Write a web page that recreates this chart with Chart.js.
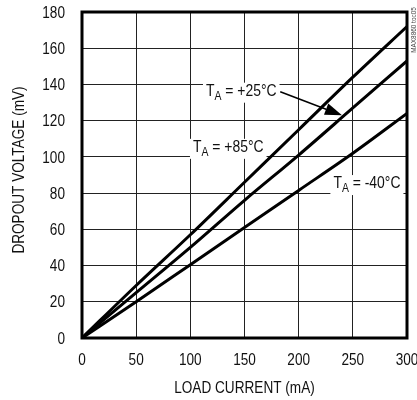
<!DOCTYPE html>
<html>
<head>
<meta charset="utf-8">
<script src="https://cdn.jsdelivr.net/npm/chart.js@4.4.1/dist/chart.umd.min.js"></script>
<style>
    html, body { margin: 0; padding: 0; background: #fff; overflow: hidden; }
    #wrap { position: relative; width: 440px; height: 400px; }
</style>
</head>
<body>
<div id="wrap"><canvas id="dropoutChart"></canvas></div>
<script>
const FONT = '"Liberation Sans", Arial, sans-serif';
const NARROW = 0.8; // horizontal squeeze, the original uses a narrow face

// Load current, mA
const loadCurrent = [0, 50, 100, 150, 200, 250, 300];
// Dropout voltage, mV
const dropout85 = [0, 29, 57, 86, 115, 144, 172];
const dropout25 = [0, 25, 50, 76, 101, 127, 153];
const dropoutM40 = [0, 20, 40.5, 61, 81.5, 102, 124];

const xTicks = [0, 50, 100, 150, 200, 250, 300];
const yTicks = [0, 20, 40, 60, 80, 100, 120, 140, 160, 180];
const xTitle = 'LOAD CURRENT (mA)';
const yTitle = 'DROPOUT VOLTAGE (mV)';

// Curve labels: [main, subscript, rest, x, y] in data units
const curveLabels = [
    ['T', 'A', ' = +25°C', 147, 136],
    ['T', 'A', ' = +85°C', 135, 105],
    ['T', 'A', ' = -40°C', 263, 85]
];
// Arrow from +25°C label to its curve
const arrowFrom = [183, 136];
const arrowTo = [240, 123];

function toPoints(ys) {
    return loadCurrent.map((x, i) => ({ x: x, y: ys[i] }));
}

function lineSet(ys) {
    return {
        data: toPoints(ys),
        borderColor: '#000',
        borderWidth: 3,
        pointRadius: 0,
        fill: false,
        cubicInterpolationMode: 'monotone'
    };
}

// squeezed text
function narrowText(ctx, text, x, y, size, align, rot, sx) {
    ctx.save();
    ctx.translate(x, y);
    if (rot) ctx.rotate(rot);
    ctx.scale(sx || NARROW, 1);
    ctx.font = size + 'px ' + FONT;
    ctx.textAlign = align;
    ctx.textBaseline = 'middle';
    ctx.fillText(text, 0, 0);
    ctx.restore();
}

// Frame, tick labels, titles, curve labels, arrow, figure id
const decorPlugin = {
    id: 'decor',
    afterDatasetsDraw(chart) {
        const ctx = chart.ctx;
        const a = chart.chartArea;
        const xs = chart.scales.x, ys = chart.scales.y;

        ctx.save();
        ctx.strokeStyle = '#000';
        ctx.lineWidth = 3;
        ctx.strokeRect(a.left, a.top, a.right - a.left, a.bottom - a.top);

        // tick labels and axis titles
        ctx.fillStyle = '#111';
        xs.ticks.forEach(t => narrowText(ctx, String(t.value), xs.getPixelForValue(t.value), a.bottom + 22, 17, 'center'));
        ys.ticks.forEach(t => narrowText(ctx, String(t.value), a.left - 17, ys.getPixelForValue(t.value) + 1, 17, 'right'));
        narrowText(ctx, xTitle, (a.left + a.right) / 2, a.bottom + 50, 17, 'center');
        narrowText(ctx, yTitle, 19, (a.top + a.bottom) / 2 - 5, 17, 'center', -Math.PI / 2);

        // arrow
        const x1 = xs.getPixelForValue(arrowFrom[0]), y1 = ys.getPixelForValue(arrowFrom[1]);
        const x2 = xs.getPixelForValue(arrowTo[0]), y2 = ys.getPixelForValue(arrowTo[1]);
        const ang = Math.atan2(y2 - y1, x2 - x1);
        const headLen = 17, headW = 6;
        const bx = x2 - headLen * Math.cos(ang), by = y2 - headLen * Math.sin(ang);
        ctx.strokeStyle = '#000';
        ctx.lineWidth = 1.5;
        ctx.beginPath();
        ctx.moveTo(x1, y1);
        ctx.lineTo(bx, by);
        ctx.stroke();
        ctx.beginPath();
        ctx.moveTo(x2, y2);
        ctx.lineTo(bx + headW * Math.sin(ang), by - headW * Math.cos(ang));
        ctx.lineTo(bx - headW * Math.sin(ang), by + headW * Math.cos(ang));
        ctx.closePath();
        ctx.fillStyle = '#000';
        ctx.fill();

        // curve labels with white box
        const lsx = 0.87;
        curveLabels.forEach(l => {
            ctx.font = '16px ' + FONT;
            const w1 = ctx.measureText(l[0]).width * lsx;
            const w3 = ctx.measureText(l[2]).width * lsx;
            ctx.font = '12px ' + FONT;
            const w2 = ctx.measureText(l[1]).width * lsx;
            const total = w1 + w2 + w3;
            const cx = xs.getPixelForValue(l[3]);
            const cy = ys.getPixelForValue(l[4]);
            const left = cx - total / 2;
            ctx.fillStyle = '#fff';
            ctx.fillRect(left - 3, cy - 9, total + 6, 20);
            ctx.fillStyle = '#111';
            narrowText(ctx, l[0], left, cy, 16, 'left', 0, lsx);
            narrowText(ctx, l[1], left + w1, cy + 5, 12, 'left', 0, lsx);
            narrowText(ctx, l[2], left + w1 + w2, cy, 16, 'left', 0, lsx);
        });

        // figure id
        ctx.fillStyle = '#444';
        narrowText(ctx, 'MAX8860 toc05', a.right + 7, 30, 8, 'center', -Math.PI / 2);
        ctx.restore();
    }
};

document.addEventListener('DOMContentLoaded', () => {
    new Chart(document.getElementById('dropoutChart'), {
        type: 'line',
        data: {
            datasets: [lineSet(dropout85), lineSet(dropout25), lineSet(dropoutM40)]
        },
        options: {
            responsive: true,
            maintainAspectRatio: false,
            animation: false,
            events: [],
            layout: { padding: { left: 0, right: 33, top: 12, bottom: 0 } },
            plugins: { legend: { display: false }, tooltip: { enabled: false } },
            scales: {
                x: {
                    type: 'linear',
                    min: 0,
                    max: 300,
                    afterBuildTicks: s => { s.ticks = xTicks.map(v => ({ value: v })); },
                    afterFit: s => { s.height = 62; },
                    grid: { color: '#222', lineWidth: 1, drawTicks: false },
                    border: { display: false },
                    ticks: { display: false }
                },
                y: {
                    min: 0,
                    max: 180,
                    afterBuildTicks: s => { s.ticks = yTicks.map(v => ({ value: v })); },
                    afterFit: s => { s.width = 82; },
                    grid: { color: '#222', lineWidth: 1, drawTicks: false },
                    border: { display: false },
                    ticks: { display: false }
                }
            }
        },
        plugins: [decorPlugin]
    });
});
</script>
</body>
</html>
